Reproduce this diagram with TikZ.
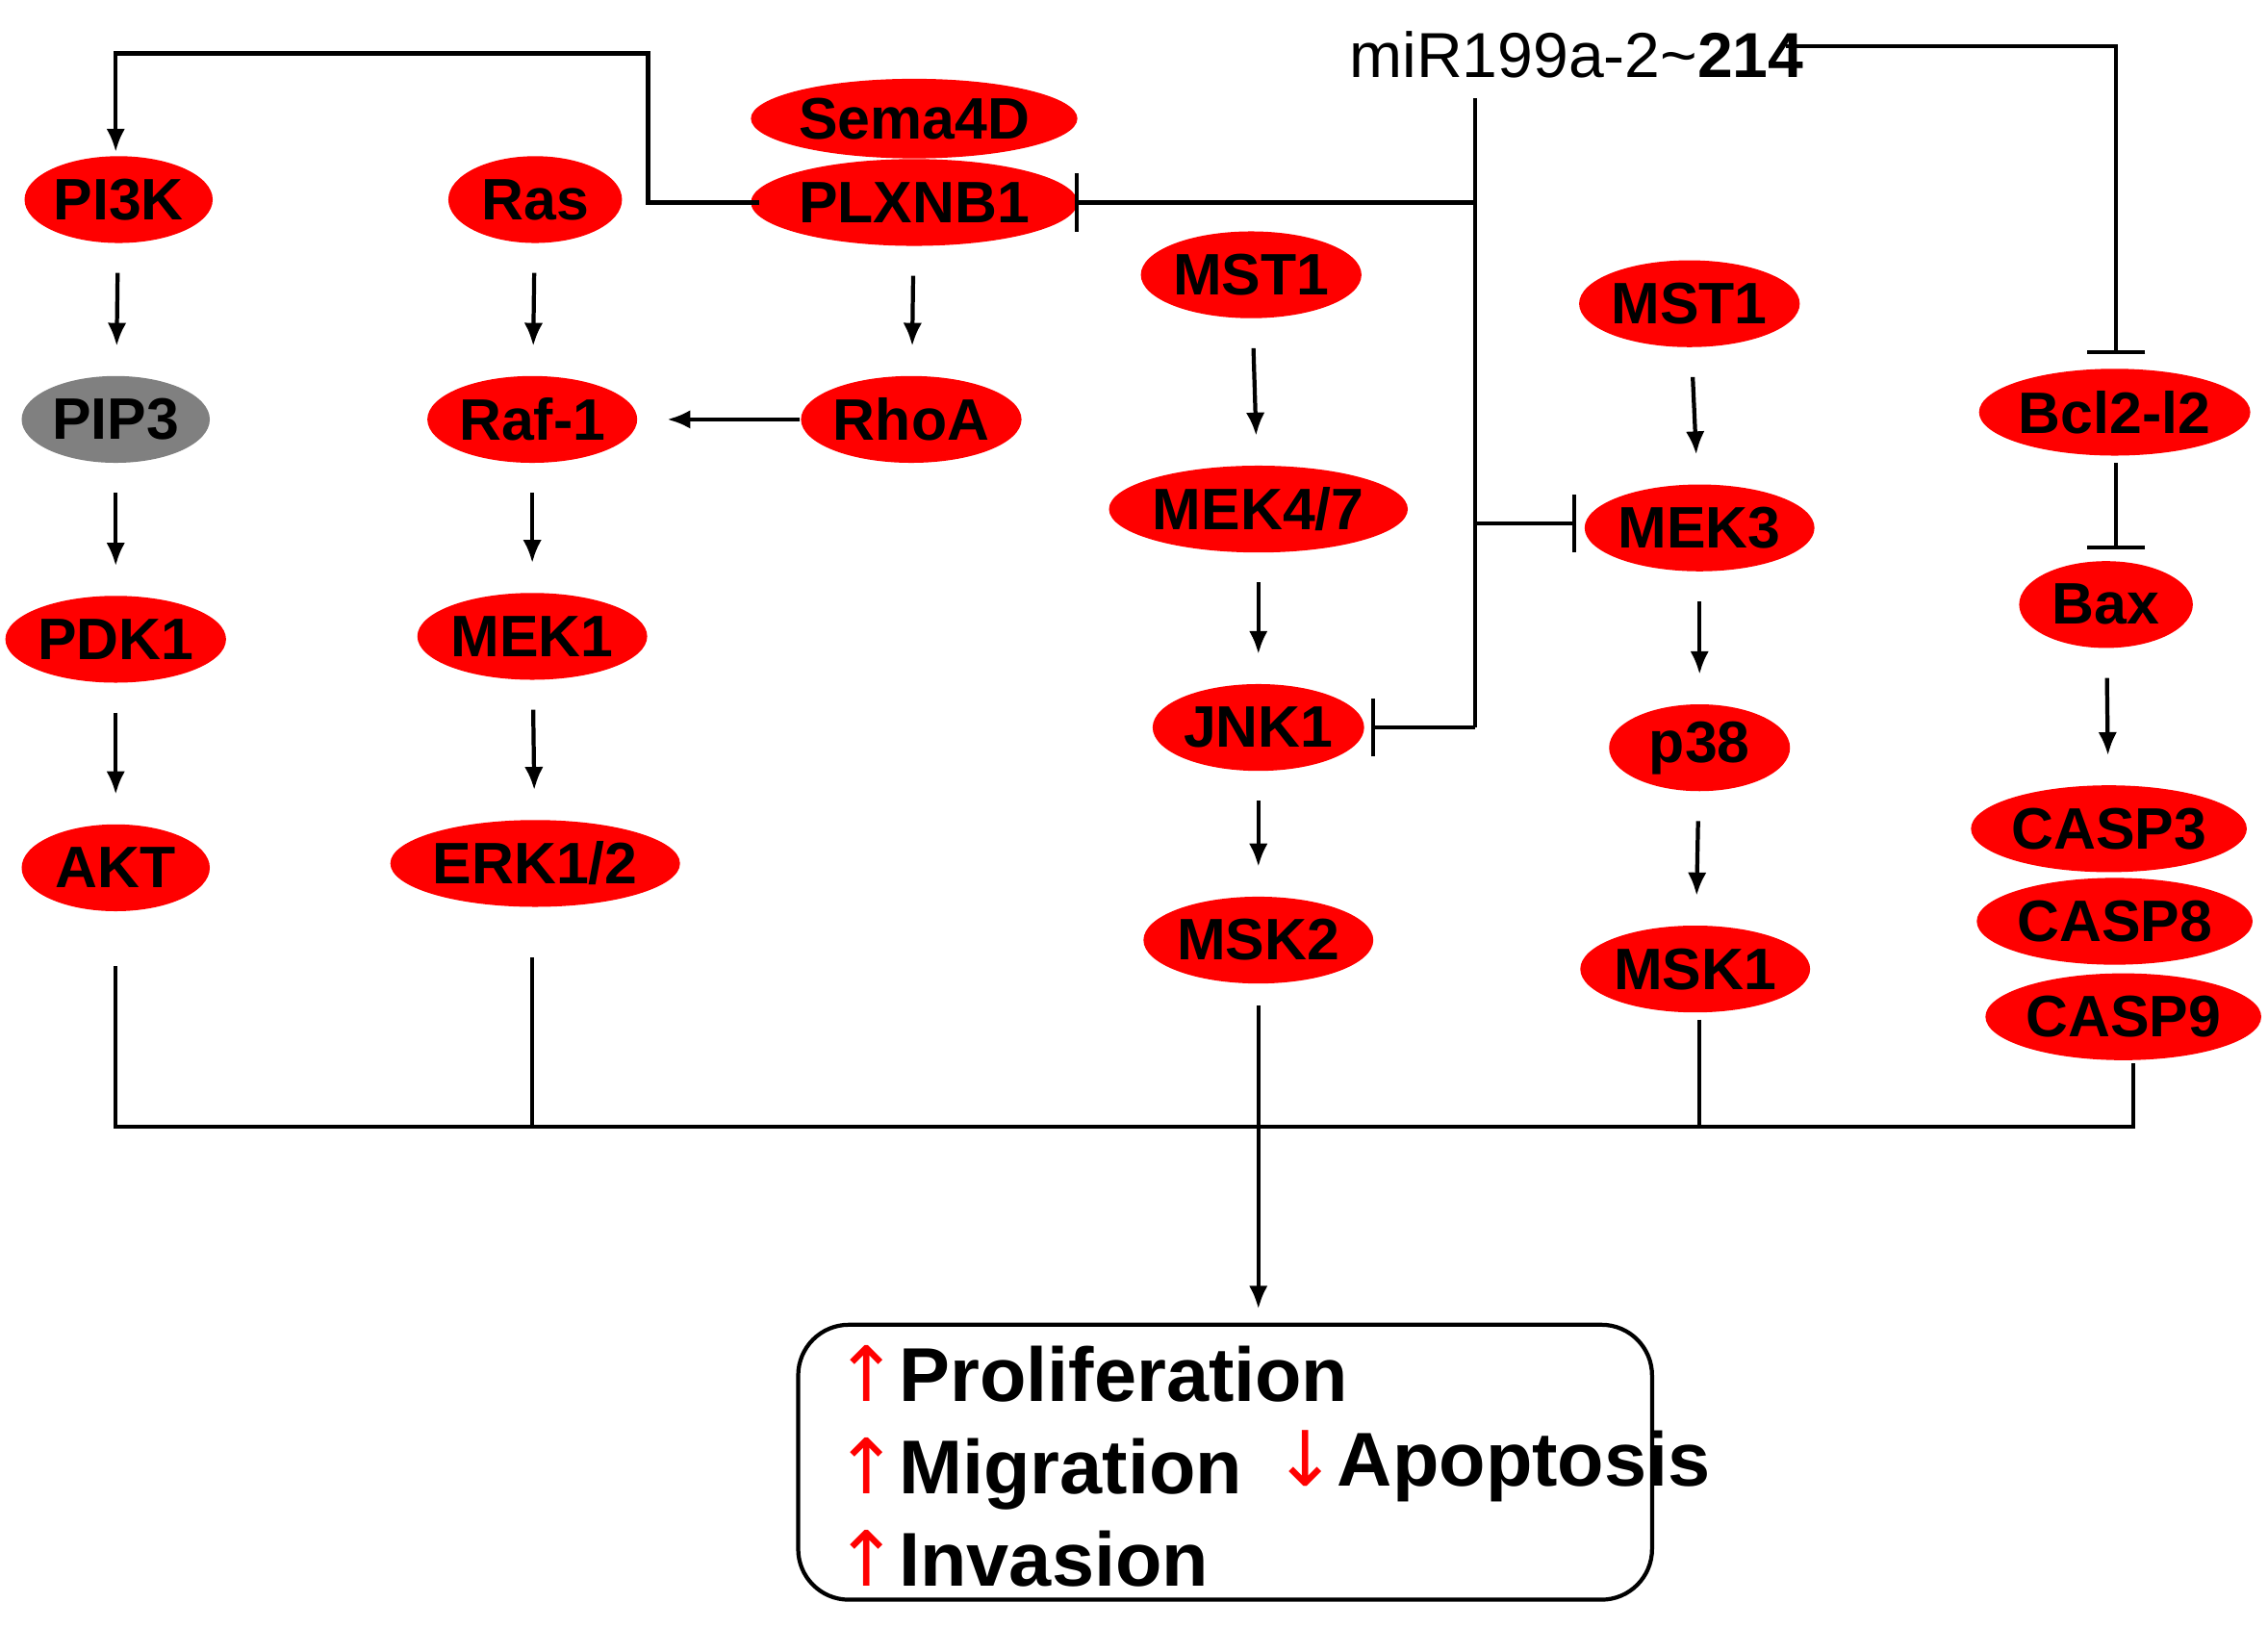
\documentclass[tikz,border=0pt]{standalone}
\usepackage{fontspec}
\setmainfont{Liberation Sans}
\newfontfamily\symfont{DejaVu Sans}
\usepackage{tikz}
\usetikzlibrary{positioning,arrows.meta,shapes.geometric}

\begin{document}
\begin{tikzpicture}[x=0.01cm, y=-0.01cm,
  gene/.style={ellipse, fill=red, inner sep=0pt, minimum height=0.6cm, font=\fontsize{11.5}{13}\selectfont\bfseries},
  link/.style={thick, -{Latex[length=1.6mm,width=1.3mm]}, shorten <=2mm, shorten >=2mm},
  inhib/.style={thick, -{Bar[width=4mm]}},
  bus/.style={thick}]
\useasboundingbox (0,0) rectangle (1568,1125);

\node[gene, minimum width=1.95cm, minimum height=0.55cm] at (632,82) (sema) {Sema4D};
\node[gene, minimum width=1.95cm] at (632,140) (plx) {PLXNB1};
\node[gene, minimum width=1.3cm] at (82,138) (pi3k) {PI3K};
\node[gene, minimum width=1.2cm] at (370,138) (ras) {Ras};
\node[gene, fill=gray, minimum width=1.3cm] at (80,290) (pip3) {PIP3};
\node[gene, minimum width=1.45cm] at (368,290) (raf) {Raf-1};
\node[gene, minimum width=1.45cm] at (630,290) (rhoa) {RhoA};
\node[gene, minimum width=1.3cm] at (80,442) (pdk1) {PDK1};
\node[gene, minimum width=1.45cm] at (368,440) (mek1) {MEK1};
\node[gene, minimum width=1.3cm] at (80,600) (akt) {AKT};
\node[gene, minimum width=1.9cm] at (370,597) (erk) {ERK1/2};
\node[gene, minimum width=1.45cm] at (865,190) (msta) {MST1};
\node[gene, minimum width=1.8cm] at (870,352) (mek47) {MEK4/7};
\node[gene, minimum width=1.45cm] at (870,503) (jnk1) {JNK1};
\node[gene, minimum width=1.45cm] at (870,650) (msk2) {MSK2};
\node[gene, minimum width=1.5cm] at (1168,210) (mstb) {MST1};
\node[gene, minimum width=1.45cm] at (1175,365) (mek3) {MEK3};
\node[gene, minimum width=1.25cm] at (1175,517) (p38) {p38};
\node[gene, minimum width=1.45cm] at (1172,670) (msk1) {MSK1};
\node[gene, minimum width=1.7cm] at (1462,285) (bcl) {Bcl2-l2};
\node[gene, minimum width=1.2cm] at (1456,418) (bax) {Bax};
\node[gene, minimum width=1.6cm] at (1458,573) (casp3) {CASP3};
\node[gene, minimum width=1.65cm] at (1462,637) (casp8) {CASP8};
\node[gene, minimum width=1.7cm] at (1468,703) (casp9) {CASP9};
\node[font=\fontsize{12.5}{14}\selectfont] at (1090,38) (mir) {miR199a-2\textasciitilde\textbf{214}};

% outcome box
\node[draw, thick, rounded corners=0.35cm, minimum width=5.9cm, minimum height=1.9cm] at (847,1011) (out) {};
\node[anchor=west, font=\fontsize{15}{17}\selectfont\bfseries, align=left] at (565,1014) (up)
  {{\symfont\color{red}\mdseries↑}Proliferation\\[0.4mm]{\symfont\color{red}\mdseries↑}Migration\\[0.4mm]{\symfont\color{red}\mdseries↑}Invasion};
\node[anchor=west, font=\fontsize{15}{17}\selectfont\bfseries] at (868,1014) (down)
  {{\symfont\color{red}\mdseries↓}Apoptosis};

% cascades
\draw[link] (pi3k) -- (pip3);
\draw[link] (pip3) -- (pdk1);
\draw[link] (pdk1) -- (akt);
\draw[link] (ras) -- (raf);
\draw[link] (raf) -- (mek1);
\draw[link] (mek1) -- (erk);
\draw[link] (plx) -- (rhoa);
\draw[link, shorten <=0mm] (rhoa) -- (raf);
\draw[link] (msta) -- (mek47);
\draw[link] (mek47) -- (jnk1);
\draw[link] (jnk1) -- (msk2);
\draw[link] (mstb) -- (mek3);
\draw[link] (mek3) -- (p38);
\draw[link] (p38) -- (msk1);
\draw[link] (bax) -- (casp3);

% miRNA targets
\coordinate (plxl) at (525,140);
\coordinate (pi3kt) at (80,105);
\draw[thick, -{Latex[length=1.6mm,width=1.3mm]}] (plxl) -- (448,140) -- (448,37) -- (80,37) -- (pi3kt);
\coordinate (mirr) at (1235,32);
\draw[inhib] (mirr) -- (1463,32) -- (1463,245);
\draw[inhib] (1463,320) -- (1463,380);
\coordinate (stem) at (1020,68);
\draw[thick] (stem) -- (1020,503);
\draw[inhib] (1020,140) -- (743,140);
\draw[inhib] (1020,362) -- (1090,362);
\draw[inhib] (1020,503) -- (948,503);

% collecting bus
\coordinate (busl) at (80,779);
\coordinate (busr) at (1475,779);
\draw[bus] (80,668) -- (busl) -- (busr) -- (1475,735);
\draw[bus] (368,662) -- (368,779);
\draw[bus] (1175,705) -- (1175,779);
\draw[bus] (870,695) -- (870,779);
\draw[thick, -{Latex[length=1.6mm,width=1.3mm]}] (870,779) -- (870,905);
\end{tikzpicture}
\end{document}
